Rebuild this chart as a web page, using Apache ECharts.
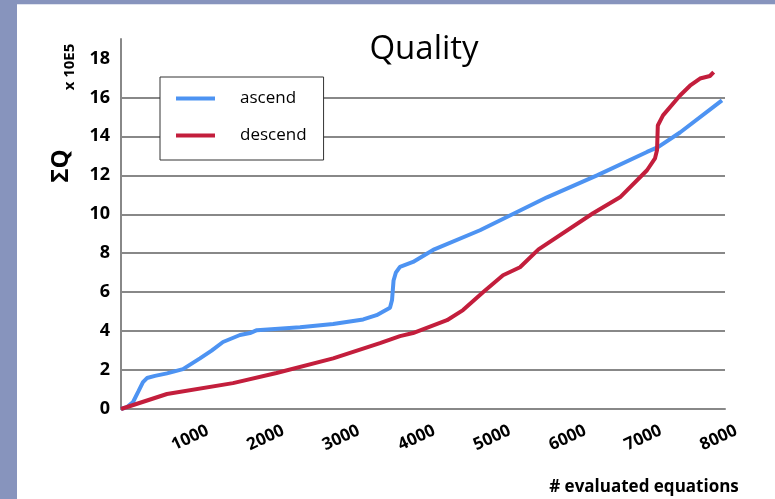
<!DOCTYPE html>
<html>
<head>
<meta charset="utf-8">
<script src="https://cdn.jsdelivr.net/npm/echarts@6/dist/echarts.min.js"></script>
<style>
    body { margin: 0; background: #8794bd; }
    #panel { position: absolute; left: 17px; top: 4px; width: 758px; height: 495px; background: #fff; border-top: 1px solid #dfe3ee; }
    #chart { position: absolute; left: 0; top: 0; width: 775px; height: 499px; }
</style>
</head>
<body>
<div id="panel"></div>
<div id="chart"></div>
<script>
// 数据 (单位: x 10E5)
const ascendX = [0, 80, 160, 230, 291, 344, 450, 609, 821, 1046, 1200, 1351, 1576, 1708, 1800, 2371, 2810, 3208, 3385, 3563, 3590, 3610, 3640, 3695, 3868, 4150, 4755, 5642, 6305, 6967, 7113, 7404, 7960];
const ascendY = [0, 0.1, 0.36, 0.9, 1.38, 1.59, 1.7, 1.83, 2.05, 2.6, 3.0, 3.44, 3.8, 3.9, 4.05, 4.2, 4.36, 4.6, 4.82, 5.2, 5.6, 6.6, 7.0, 7.3, 7.55, 8.2, 9.18, 10.87, 12.0, 13.2, 13.45, 14.2, 15.85];
const descendX = [0, 609, 1483, 2060, 2810, 3430, 3695, 3868, 4318, 4530, 4795, 5060, 5285, 5530, 6252, 6609, 6967, 7073, 7100, 7110, 7179, 7404, 7536, 7669, 7800, 7850];
const descendY = [0, 0.77, 1.33, 1.85, 2.6, 3.38, 3.74, 3.9, 4.56, 5.08, 6.0, 6.87, 7.28, 8.2, 10.05, 10.87, 12.26, 12.87, 13.3, 14.56, 15.08, 16.1, 16.6, 16.97, 17.1, 17.3];
const seriesNames = ['ascend', 'descend'];

// 颜色
const colors = {
    ascend: '#4d93f2',
    descend: '#c31e3c',
    grid: '#888888'
};

function zip(xs, ys) {
    return xs.map((x, i) => [x, ys[i]]);
}

const chart = echarts.init(document.getElementById('chart'));

const font = '"Open Sans", "DejaVu Sans", sans-serif';

const option = {
    animation: false,
    backgroundColor: 'transparent',
    textStyle: { fontFamily: font },
    grid: {
        left: 121,
        right: 50,
        top: 39,
        bottom: 90
    },
    legend: {
        data: seriesNames,
        orient: 'vertical',
        left: 160,
        top: 77,
        backgroundColor: '#fff',
        borderColor: '#333',
        borderWidth: 1,
        padding: [13, 17, 16, 16],
        itemGap: 20,
        itemWidth: 39,
        itemHeight: 4,
        icon: 'rect',
        textStyle: {
            fontSize: 17,
            color: '#000',
            padding: [0, 0, 0, 20]
        }
    },
    xAxis: {
        type: 'value',
        min: 0,
        max: 8000,
        interval: 1000,
        axisLine: { show: true, lineStyle: { color: colors.grid, width: 2 } },
        axisTick: { show: false },
        splitLine: { show: false },
        axisLabel: {
            showMinLabel: false,
            formatter: (v) => String(v),
            rotate: 25,
            align: 'center',
            verticalAlign: 'middle',
            margin: 26,
            padding: [0, 14, 0, 0],
            fontSize: 17,
            fontWeight: 'bold',
            color: '#000'
        }
    },
    yAxis: {
        type: 'value',
        min: 0,
        max: 19,
        interval: 2,
        axisLine: { show: true, lineStyle: { color: colors.grid, width: 2 } },
        axisTick: { show: false },
        splitLine: {
            show: true,
            lineStyle: {
                color: [colors.grid, colors.grid, colors.grid, colors.grid, colors.grid,
                        colors.grid, colors.grid, colors.grid, colors.grid, 'transparent', 'transparent'],
                width: 2
            }
        },
        axisLabel: {
            showMaxLabel: false,
            margin: 11,
            fontSize: 18,
            fontWeight: 'bold',
            color: '#000'
        }
    },
    graphic: [
        {
            type: 'text',
            x: 424,
            y: 50,
            style: {
                text: 'Quality',
                font: '33px ' + font,
                fill: '#000',
                align: 'center',
                verticalAlign: 'middle'
            }
        },
        {
            type: 'text',
            x: 70,
            y: 67,
            rotation: Math.PI / 2,
            style: {
                text: 'x 10E5',
                font: 'bold 15px ' + font,
                fill: '#000',
                align: 'center',
                verticalAlign: 'middle'
            }
        },
        {
            type: 'text',
            x: 61,
            y: 166,
            rotation: Math.PI / 2,
            style: {
                text: 'ΣQ',
                font: 'bold 24px ' + font,
                fill: '#000',
                align: 'center',
                verticalAlign: 'middle'
            }
        },
        {
            type: 'text',
            x: 644,
            y: 487,
            style: {
                text: '# evaluated equations',
                font: 'bold 17px ' + font,
                fill: '#000',
                align: 'center',
                verticalAlign: 'middle'
            }
        }
    ],
    series: [
        {
            name: 'ascend',
            type: 'line',
            data: zip(ascendX, ascendY),
            showSymbol: false,
            itemStyle: { color: colors.ascend },
            lineStyle: { width: 4, color: colors.ascend }
        },
        {
            name: 'descend',
            type: 'line',
            data: zip(descendX, descendY),
            showSymbol: false,
            itemStyle: { color: colors.descend },
            lineStyle: { width: 4, color: colors.descend }
        }
    ]
};

chart.setOption(option);
</script>
</body>
</html>
